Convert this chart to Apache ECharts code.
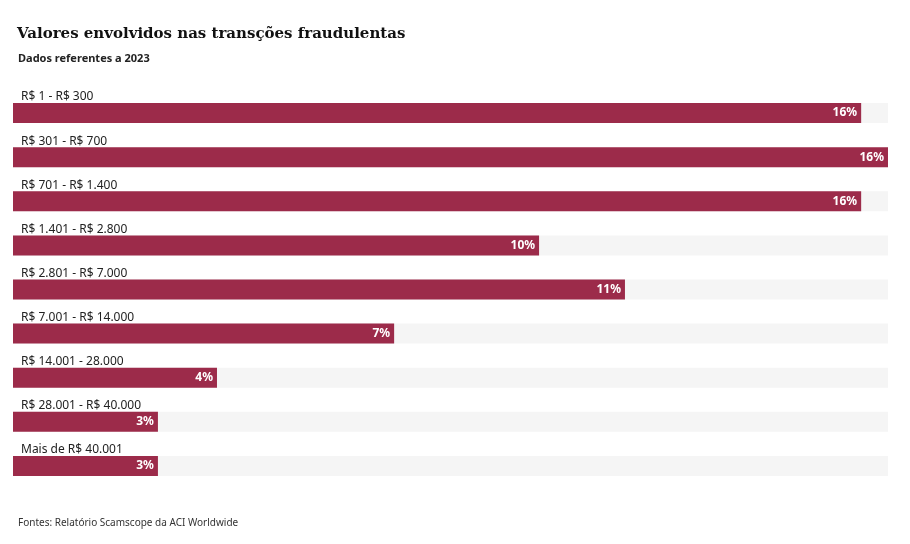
<!DOCTYPE html>
<html>
<head>
<meta charset="utf-8">
<script src="https://cdn.jsdelivr.net/npm/echarts@6/dist/echarts.min.js"></script>
<style>
  body { margin: 0; background: #fff; }
  #chart { width: 910px; height: 544px; }
</style>
</head>
<body>
<div id="chart"></div>
<script>
const faixas = ['R$ 1 - R$ 300', 'R$ 301 - R$ 700', 'R$ 701 - R$ 1.400', 'R$ 1.401 - R$ 2.800',
    'R$ 2.801 - R$ 7.000', 'R$ 7.001 - R$ 14.000', 'R$ 14.001 - 28.000', 'R$ 28.001 - R$ 40.000', 'Mais de R$ 40.001'];
const valores = [15.8, 16.3, 15.8, 9.8, 11.4, 7.1, 3.8, 2.7, 2.7];

const chart = echarts.init(document.getElementById('chart'));
chart.setOption({
    title: [
        {text: 'Valores envolvidos nas transções fraudulentas', left: 12, top: 22,
            textStyle: {fontFamily: 'DejaVu Serif', fontSize: 15, fontWeight: 'bold', color: '#111'}},
        {text: 'Dados referentes a 2023', left: 13, top: 48,
            textStyle: {fontFamily: 'Noto Sans', fontSize: 11, fontWeight: 'bold', color: '#222'}},
        {text: 'Fontes: Relatório Scamscope da ACI Worldwide', left: 13, top: 513,
            textStyle: {fontFamily: 'Noto Sans', fontSize: 10, fontWeight: 'normal', color: '#333'}}
    ],
    grid: {left: 13, right: 22, top: 91, bottom: 56},
    xAxis: {type: 'value', min: 0, max: 16.3, show: false},
    yAxis: {
        type: 'category', data: faixas, inverse: true,
        axisLine: {show: false}, axisTick: {show: false},
        axisLabel: {inside: true, align: 'left', verticalAlign: 'bottom', padding: [0, 0, 10, 0],
            fontFamily: 'Noto Sans', fontSize: 12, color: '#222'}
    },
    series: [{
        type: 'bar', data: valores, barWidth: 20, z: 1,
        itemStyle: {color: '#9c2b4a'},
        showBackground: true, backgroundStyle: {color: '#f5f5f5'},
        label: {show: true, position: 'insideRight', color: '#fff', fontWeight: 'bold',
            fontFamily: 'Noto Sans', fontSize: 12, distance: 4,
            formatter: p => Math.round(p.value) + '%'}
    }]
});
</script>
</body>
</html>
